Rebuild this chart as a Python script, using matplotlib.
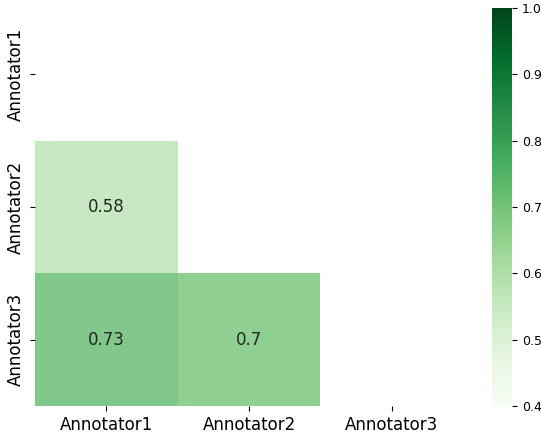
import numpy as np
import matplotlib
matplotlib.use("Agg")
import matplotlib.pyplot as plt
import seaborn as sns

labels = ["Annotator1", "Annotator2", "Annotator3"]
a2_a1 = 0.58
a3_a1 = 0.73
a3_a2 = 0.70

mat = np.array([[1.0, a2_a1, a3_a1],
                [a2_a1, 1.0, a3_a2],
                [a3_a1, a3_a2, 1.0]])
mask = np.triu(np.ones_like(mat, dtype=bool))

W, H = 541, 434
fig = plt.figure(figsize=(W / 100, H / 100), dpi=100)
ax = fig.add_axes([35 / W, 1 - 406 / H, 428 / W, 398 / H])
cax = fig.add_axes([492 / W, 1 - 406 / H, 20 / W, 398 / H])

sns.heatmap(mat, mask=mask, cmap="Greens", vmin=0.4, vmax=1.0, annot=True,
            alpha=0.8,
            annot_kws={"fontsize": 12, "color": "#262626"},
            xticklabels=labels, yticklabels=labels,
            ax=ax, cbar_ax=cax)
cbar = ax.collections[0].colorbar
cbar.solids.set_alpha(1.0)
ax.tick_params(axis="both", labelsize=12)
cax.tick_params(labelsize=9)
cax.set_yticks([0.4, 0.5, 0.6, 0.7, 0.8, 0.9, 1.0])
fig.savefig("out.png", dpi=100)
